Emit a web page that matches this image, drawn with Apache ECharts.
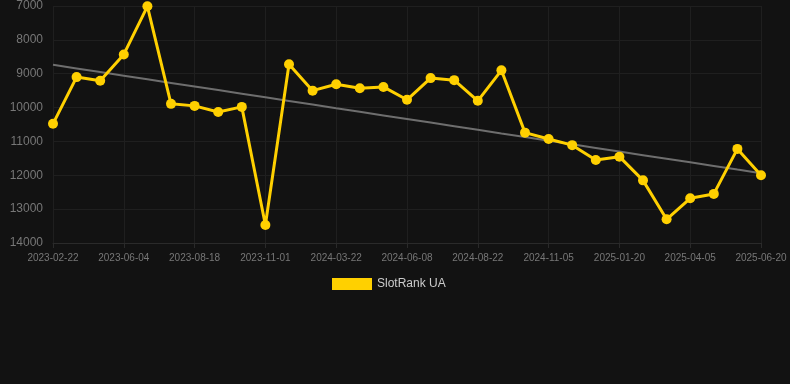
<!DOCTYPE html>
<html><head><meta charset="utf-8">
<script src="https://cdn.jsdelivr.net/npm/echarts@6/dist/echarts.min.js"></script>
<style>html,body{margin:0;padding:0;background:#121212;}#c{width:790px;height:384px;}</style>
</head><body><div id="c"></div>
<script>
var categories = ["2023-02-22","2023-03-28","2023-05-01","2023-06-04","2023-06-29","2023-07-24","2023-08-18","2023-09-12","2023-10-07","2023-11-01","2023-12-16","2024-02-05","2024-03-22","2024-04-18","2024-05-13","2024-06-08","2024-07-03","2024-07-28","2024-08-22","2024-09-16","2024-10-11","2024-11-05","2024-11-30","2024-12-25","2025-01-20","2025-02-14","2025-03-11","2025-04-05","2025-04-30","2025-05-25","2025-06-20"];
var rankValues = [10480,9100,9210,8430,7010,9890,9950,10130,9980,13470,8720,9500,9310,9430,9390,9770,9130,9190,9800,8900,10740,10930,11110,11550,11450,12150,13300,12680,12550,11220,12000];
var yTicks = [7000,8000,9000,10000,11000,12000,13000,14000];
var seriesName = "SlotRank UA";

// least-squares trend line derived from the series
var n = rankValues.length, sx=0, sy=0, sxx=0, sxy=0;
for (var i=0;i<n;i++){ sx+=i; sy+=rankValues[i]; sxx+=i*i; sxy+=i*rankValues[i]; }
var slope = (n*sxy - sx*sy)/(n*sxx - sx*sx);
var icpt = (sy - slope*sx)/n;
var trend = rankValues.map(function(_,i){ return Math.round(icpt + slope*i); });

var chart = echarts.init(document.getElementById('c'));
chart.setOption({
  backgroundColor:'#121212',
  animation:false,
  grid:{left:53,right:29,top:6,bottom:141,containLabel:false},
  legend:{
    data:[{name:seriesName}],
    top:273, left:327,
    itemWidth:40, itemHeight:12, icon:'rect',
    textStyle:{color:'#cccccc',fontSize:12}
  },
  xAxis:{
    type:'category', data:categories, boundaryGap:false,
    axisLine:{lineStyle:{color:'#2a2a2a'}},
    axisTick:{show:true, interval:2, lineStyle:{color:'#2a2a2a'}},
    axisLabel:{interval:2, color:'#777777', fontSize:10, margin:10},
    splitLine:{show:true, interval:2, lineStyle:{color:'#1f1f1f'}}
  },
  yAxis:{
    type:'value', inverse:true, min:yTicks[0], max:yTicks[yTicks.length-1], interval:1000,
    axisLine:{show:false}, axisTick:{show:false},
    axisLabel:{color:'#777777', fontSize:12, margin:10, formatter:function(v){return String(v);}},
    splitLine:{lineStyle:{color:'#1f1f1f'}}
  },
  series:[
    {name:seriesName, type:'line', data:rankValues, z:3,
     symbol:'circle', symbolSize:10,
     lineStyle:{color:'#FFD000', width:3},
     itemStyle:{color:'#FFD000'}},
    {name:'trend', type:'line', data:trend, z:2, symbol:'none',
     lineStyle:{color:'#6e6e6e', width:2}, itemStyle:{color:'#6e6e6e'}, silent:true}
  ]
});
</script></body></html>
